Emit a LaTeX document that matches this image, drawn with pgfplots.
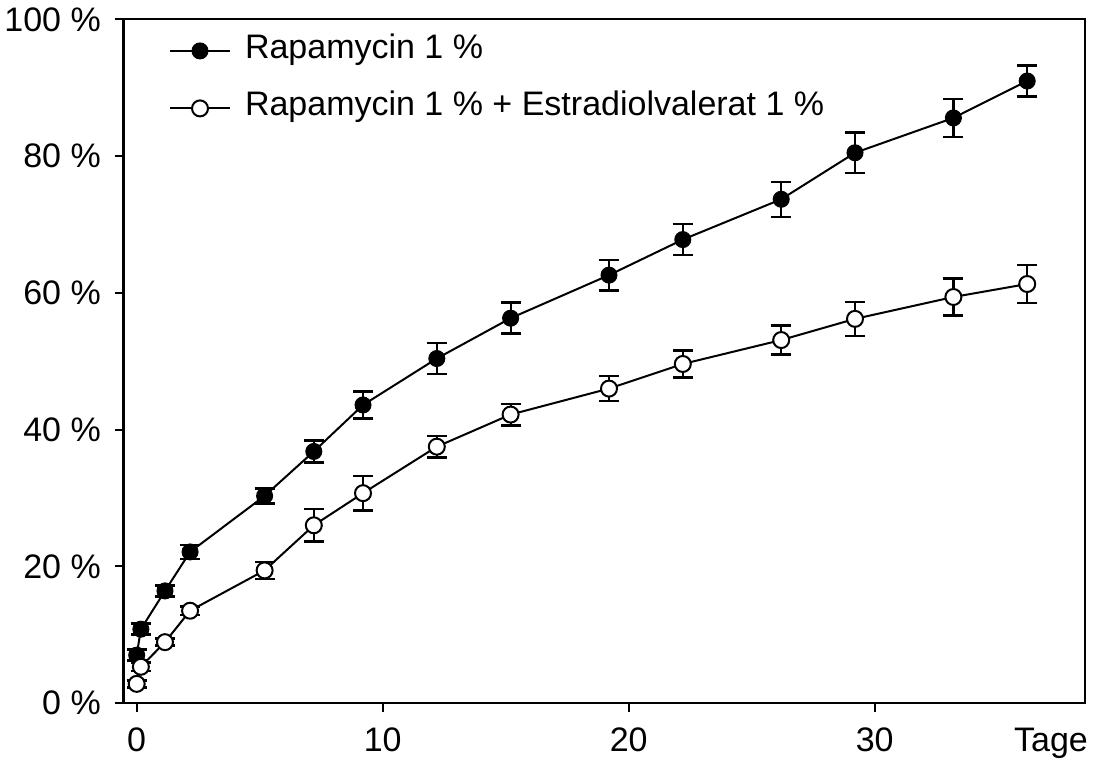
\documentclass[border=0pt]{standalone}
\usepackage{fontspec}
\setmainfont{Liberation Sans}
\usepackage{pgfplots}
\usepackage{pgfplotstable}
\pgfplotsset{compat=1.18}
\pgfplotstableread{
x y e
0 7.0 0.8
0.17 10.8 0.8
1.15 16.4 0.8
2.17 22.1 1.05
5.2 30.3 1.1
7.2 36.8 1.6
9.2 43.6 1.95
12.2 50.4 2.24
15.2 56.3 2.27
19.2 62.6 2.24
22.2 67.8 2.27
26.2 73.7 2.56
29.2 80.5 2.93
33.2 85.6 2.78
36.2 91.0 2.24
}\rapa
\pgfplotstableread{
x y e
0 2.8 0.5
0.17 5.3 0.6
1.15 8.9 0.5
2.17 13.5 0.6
5.2 19.4 1.24
7.2 26.0 2.39
9.2 30.7 2.5
12.2 37.5 1.58
15.2 42.2 1.58
19.2 46.0 1.83
22.2 49.6 1.95
26.2 53.1 2.12
29.2 56.2 2.5
33.2 59.4 2.73
36.2 61.3 2.78
}\rapaestr
\begin{document}
\begin{tikzpicture}[font=\fontsize{34}{40}\selectfont]
\begin{axis}[
  scale only axis, width=961pt, height=683.5pt,
  xmin=-0.516, xmax=38.55, ymin=0, ymax=100,
  xtick={0,10,20,30}, xticklabels={0,10,20,30},
  ytick={0,20,40,60,80,100},
  yticklabels={0 \%,20 \%,40 \%,60 \%,80 \%,100 \%},
  xtick pos=bottom, ytick pos=left, tick align=outside,
  major tick length=9pt, tick style={line width=2pt,black},
  axis line style={line width=2pt},
  yticklabel style={inner sep=0pt, xshift=-14pt},
  xticklabel style={inner sep=0pt, yshift=-16pt},
  xlabel={Tage},
  xlabel style={at={(axis description cs:1,0)}, anchor=base east, yshift=-48pt, xshift=3pt, inner sep=0pt},
  legend style={draw=none, fill=none, at={(axis description cs:0.0435,0.977)}, anchor=north west,
    nodes={inner sep=0pt, text height=21pt, text depth=6pt, anchor=west}, row sep=30.5pt,
    legend cell align=left, column sep=0pt},
  legend image code/.code={\draw[mark repeat=2,mark phase=2,#1] plot coordinates {(0pt,0pt) (30pt,0pt) (60pt,0pt)}; \path (74pt,0pt);},
  clip=false,
]
\addplot[black, line width=2pt, mark=*, mark size=8pt, mark options={fill=black, line width=1pt},
  error bars/.cd, y dir=both, y explicit,
  error bar style={line width=2.2pt},
  error mark options={rotate=90, mark size=10pt, line width=2.5pt}]
  table[x=x, y=y, y error=e] {\rapa};
\addlegendentry{Rapamycin 1 \%}
\addplot[black, line width=2pt, mark=*, mark size=8pt, mark options={fill=white, line width=2pt},
  error bars/.cd, y dir=both, y explicit,
  error bar style={line width=2.2pt},
  error mark options={rotate=90, mark size=10pt, line width=2.5pt}]
  table[x=x, y=y, y error=e] {\rapaestr};
\addlegendentry{Rapamycin 1 \% + Estradiolvalerat 1 \%}
\draw[line width=3pt] (rel axis cs:0,0) -- (rel axis cs:0,1);
\end{axis}
\pgfresetboundingbox
\path ([xshift=-124pt,yshift=-57pt]current axis.south west) rectangle ([xshift=10pt,yshift=19.5pt]current axis.north east);
\end{tikzpicture}
\end{document}
